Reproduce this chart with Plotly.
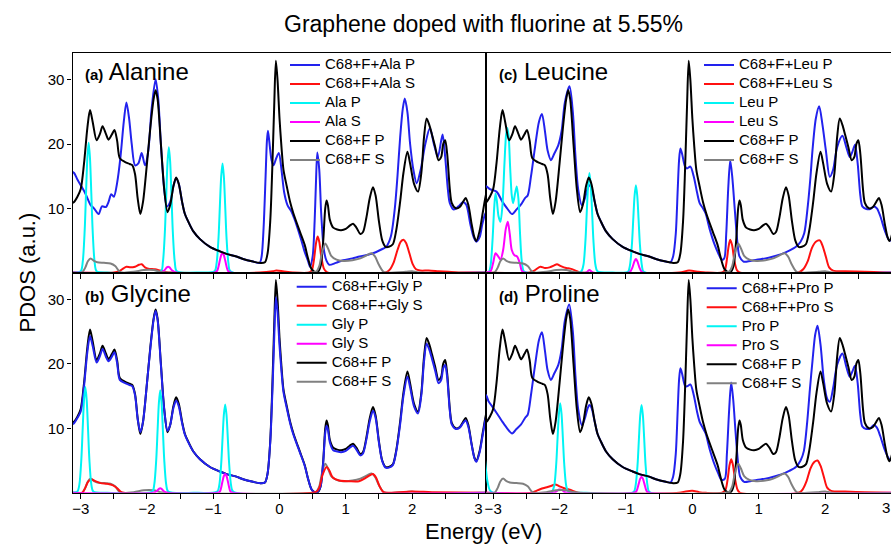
import plotly.graph_objects as go

# ---------------- data (energy eV, PDOS a.u.) ----------------
# Reference graphene + F system (same curves in every panel)
C68F_P = [(-3.14, 10.8), (-3.10, 11.0), (-3.05, 11.8), (-3.00, 13.0), (-2.95, 17.0), (-2.90, 22.5), (-2.86, 25.3),
          (-2.82, 23.5), (-2.76, 20.6), (-2.71, 21.6), (-2.67, 22.8), (-2.62, 21.6), (-2.58, 20.7), (-2.53, 21.5),
          (-2.49, 22.2), (-2.45, 20.5), (-2.41, 17.8), (-2.33, 17.2), (-2.26, 16.9), (-2.22, 16.7), (-2.18, 15.3),
          (-2.14, 11.5), (-2.10, 9.1), (-2.06, 11.0), (-2.00, 17.0), (-1.95, 22.5), (-1.90, 27.0), (-1.87, 28.4),
          (-1.84, 27.0), (-1.79, 20.0), (-1.74, 13.0), (-1.69, 9.4), (-1.65, 10.5), (-1.60, 13.5), (-1.56, 14.8),
          (-1.52, 13.8), (-1.47, 11.0), (-1.43, 9.2), (-1.38, 8.0), (-1.30, 6.4), (-1.20, 5.2), (-1.05, 4.0),
          (-0.90, 3.3), (-0.80, 2.9), (-0.65, 2.5), (-0.55, 2.1), (-0.40, 1.7), (-0.30, 1.5), (-0.22, 1.6),
          (-0.18, 3.0), (-0.14, 8.0), (-0.11, 16.0), (-0.08, 26.0), (-0.055, 33.0), (-0.03, 30.0), (0.00, 24.0),
          (0.03, 19.5), (0.06, 16.0), (0.11, 13.4), (0.16, 11.0), (0.21, 9.2), (0.31, 6.3), (0.38, 4.3),
          (0.43, 2.2), (0.48, 0.6), (0.53, 0.1), (0.58, 0.1), (0.62, 1.0), (0.66, 5.0), (0.69, 10.0), (0.71, 11.2),
          (0.73, 10.5), (0.76, 8.2), (0.81, 7.0), (0.87, 6.7), (0.93, 6.6), (1.00, 6.8), (1.06, 7.3), (1.11, 7.6),
          (1.16, 7.0), (1.22, 6.0), (1.26, 6.3), (1.31, 8.5), (1.36, 11.5), (1.41, 13.3), (1.45, 12.0), (1.50, 8.0),
          (1.55, 5.0), (1.60, 4.0), (1.65, 4.0), (1.71, 4.4), (1.76, 6.5), (1.82, 11.0), (1.87, 15.5), (1.93, 18.8),
          (1.97, 17.0), (2.03, 13.8), (2.09, 12.6), (2.14, 15.5), (2.18, 21.0), (2.22, 24.0), (2.26, 23.0),
          (2.30, 21.5), (2.35, 19.5), (2.40, 17.5), (2.44, 18.0), (2.47, 20.0), (2.50, 20.6), (2.53, 18.5),
          (2.57, 13.0), (2.60, 10.8), (2.66, 10.0), (2.72, 10.2), (2.77, 11.0), (2.81, 11.6), (2.85, 10.5),
          (2.90, 7.5), (2.94, 5.5), (2.97, 4.9), (3.02, 6.5), (3.07, 9.5), (3.12, 12.3), (3.15, 13.0)]

C68F_S = [(-3.14, 0.0), (-2.98, 0.0), (-2.93, 0.8), (-2.89, 1.8), (-2.85, 2.2), (-2.80, 1.8), (-2.75, 1.6),
          (-2.65, 1.5), (-2.55, 1.4), (-2.48, 1.0), (-2.42, 0.2), (-2.38, 0.0), (-2.20, 0.1), (-2.05, 0.4),
          (-1.90, 0.4), (-1.80, 0.1), (-1.70, 0.0), (0.50, 0.0), (0.56, 0.2), (0.60, 1.0), (0.64, 3.0), (0.69, 4.5),
          (0.73, 3.8), (0.78, 2.6), (0.86, 2.0), (0.96, 1.8), (1.10, 1.9), (1.22, 2.2), (1.32, 2.7), (1.39, 3.0),
          (1.44, 2.5), (1.50, 1.2), (1.56, 0.2), (1.60, 0.0), (1.90, 0.1), (2.00, 0.2), (2.10, 0.0), (3.15, 0.0)]

# (a) Alanine
C68F_ALA_P = [(-3.14, 15.8), (-3.10, 15.5), (-3.05, 14.5), (-3.00, 13.6), (-2.93, 12.3), (-2.85, 10.5), (-2.80, 10.0),
              (-2.73, 9.1), (-2.68, 10.3), (-2.62, 10.2), (-2.58, 11.0), (-2.54, 12.2), (-2.50, 11.8), (-2.45, 14.0),
              (-2.40, 18.0), (-2.35, 23.5), (-2.31, 26.5), (-2.27, 24.0), (-2.23, 20.0), (-2.18, 16.7), (-2.13, 17.0),
              (-2.08, 18.6), (-2.03, 16.7), (-1.98, 19.0), (-1.93, 25.5), (-1.87, 30.1), (-1.83, 27.0), (-1.79, 20.0),
              (-1.74, 13.0), (-1.70, 10.3), (-1.65, 11.0), (-1.60, 13.5), (-1.56, 14.7), (-1.52, 13.8), (-1.47, 11.0),
              (-1.43, 9.2), (-1.38, 8.0), (-1.30, 6.4), (-1.20, 5.2), (-1.05, 4.0), (-0.90, 3.3), (-0.80, 2.9),
              (-0.65, 2.5), (-0.55, 2.1), (-0.40, 1.7), (-0.30, 1.5), (-0.27, 2.5), (-0.24, 7.0), (-0.21, 15.0),
              (-0.19, 20.5), (-0.175, 22.1), (-0.155, 20.5), (-0.12, 17.5), (-0.09, 16.7), (-0.05, 17.8),
              (-0.01, 18.6), (0.03, 16.0), (0.07, 12.5), (0.12, 10.5), (0.18, 9.5), (0.22, 8.5), (0.27, 7.0),
              (0.33, 5.0), (0.38, 3.2), (0.43, 1.8), (0.46, 0.9), (0.50, 2.5), (0.53, 8.0), (0.55, 14.0), (0.57, 18.7),
              (0.60, 16.0), (0.63, 9.0), (0.67, 3.5), (0.71, 1.8), (0.75, 1.2), (0.85, 1.5), (0.96, 1.9), (1.10, 2.2),
              (1.21, 2.5), (1.35, 2.8), (1.46, 3.2), (1.56, 3.7), (1.61, 4.0), (1.68, 5.6), (1.74, 10.0), (1.78, 15.0),
              (1.82, 21.0), (1.86, 25.5), (1.89, 27.1), (1.93, 25.0), (1.97, 20.1), (2.02, 16.0), (2.07, 13.9),
              (2.13, 16.0), (2.20, 20.0), (2.27, 22.5), (2.33, 20.0), (2.39, 18.0), (2.46, 21.5), (2.50, 18.0),
              (2.54, 13.0), (2.57, 10.8), (2.63, 9.8), (2.70, 10.3), (2.77, 11.0), (2.82, 10.5), (2.88, 7.5),
              (2.93, 5.5), (2.97, 4.8), (3.02, 5.5), (3.06, 7.5), (3.10, 9.0), (3.15, 10.0)]
C68F_ALA_S = [(-3.14, 0.0), (-2.50, 0.0), (-2.42, 0.2), (-2.36, 0.6), (-2.31, 0.9), (-2.25, 0.8), (-2.18, 0.9),
              (-2.12, 1.2), (-2.08, 1.3), (-2.03, 0.8), (-1.98, 0.6), (-1.88, 0.5), (-1.80, 0.3), (-1.72, 0.1),
              (-1.65, 0.0), (-0.30, 0.0), (-0.10, 0.2), (-0.05, 0.3), (0.05, 0.2), (0.20, 0.0), (0.45, 0.0),
              (0.49, 0.4), (0.52, 2.0), (0.55, 4.5), (0.575, 5.6), (0.60, 4.8), (0.63, 2.5), (0.67, 0.6), (0.72, 0.0),
              (1.60, 0.0), (1.66, 0.4), (1.72, 1.5), (1.78, 3.5), (1.83, 4.8), (1.87, 5.1), (1.91, 4.6), (1.96, 3.0),
              (2.01, 1.3), (2.06, 0.5), (2.12, 0.3), (2.25, 0.3), (2.40, 0.2), (2.55, 0.1), (2.70, 0.0), (3.15, 0.0)]
ALA_P = [(-3.14, 0.0), (-3.00, 0.2), (-2.97, 1.6), (-2.94, 6.6), (-2.92, 12.3), (-2.90, 17.8), (-2.88, 20.2),
         (-2.86, 17.8), (-2.84, 12.3), (-2.82, 6.6), (-2.79, 1.6), (-2.76, 0.2), (-2.60, 0.0),
         (-1.79, 0.2), (-1.76, 1.6), (-1.73, 6.3), (-1.71, 11.9), (-1.69, 17.2), (-1.67, 19.5), (-1.65, 17.2),
         (-1.63, 11.9), (-1.61, 6.3), (-1.58, 1.6), (-1.55, 0.2), (-1.20, 0.0),
         (-0.98, 0.2), (-0.95, 1.4), (-0.92, 5.5), (-0.90, 10.4), (-0.88, 15.0), (-0.86, 17.0), (-0.84, 15.0),
         (-0.82, 10.4), (-0.80, 5.5), (-0.77, 1.4), (-0.74, 0.2), (3.15, 0.0)]
ALA_S = [(-3.14, 0.0), (-1.80, 0.0), (-1.74, 0.3), (-1.70, 0.8), (-1.68, 0.9), (-1.66, 0.8), (-1.62, 0.3),
         (-1.56, 0.0), (-0.98, 0.0), (-0.94, 0.3), (-0.90, 1.9), (-0.88, 2.7), (-0.86, 3.1), (-0.84, 2.7),
         (-0.82, 1.9), (-0.78, 0.3), (-0.74, 0.0), (3.15, 0.0)]

# (b) Glycine
C68F_GLY_P = [(-3.14, 10.6), (-3.10, 10.8), (-3.05, 11.6), (-3.00, 12.6), (-2.95, 16.5), (-2.90, 21.8), (-2.86, 24.3),
              (-2.82, 22.8), (-2.76, 20.2), (-2.71, 21.2), (-2.67, 22.3), (-2.62, 21.1), (-2.58, 20.4), (-2.53, 21.1),
              (-2.49, 21.8), (-2.45, 20.1), (-2.41, 17.5), (-2.33, 17.0), (-2.26, 16.7), (-2.22, 16.5), (-2.18, 15.1),
              (-2.14, 11.4), (-2.10, 9.4), (-2.06, 11.0), (-2.00, 17.0), (-1.95, 22.3), (-1.90, 26.8), (-1.87, 28.2),
              (-1.84, 26.8), (-1.79, 19.8), (-1.74, 12.9), (-1.69, 9.6), (-1.65, 10.5), (-1.60, 13.2), (-1.56, 14.3),
              (-1.52, 13.4), (-1.47, 10.8), (-1.43, 9.1), (-1.38, 7.9), (-1.30, 6.4), (-1.20, 5.2), (-1.05, 4.0),
              (-0.90, 3.3), (-0.80, 2.9), (-0.65, 2.5), (-0.55, 2.1), (-0.40, 1.7), (-0.30, 1.5), (-0.22, 1.6),
              (-0.18, 3.0), (-0.14, 7.8), (-0.11, 15.0), (-0.08, 24.0), (-0.055, 30.3), (-0.03, 28.0), (0.00, 22.8),
              (0.03, 18.8), (0.06, 15.6), (0.11, 13.1), (0.16, 10.8), (0.21, 9.0), (0.31, 6.2), (0.38, 4.2),
              (0.43, 2.2), (0.48, 0.6), (0.53, 0.1), (0.58, 0.2), (0.62, 1.0), (0.66, 4.8), (0.69, 9.3), (0.71, 10.4),
              (0.73, 9.8), (0.76, 7.8), (0.81, 6.6), (0.87, 6.4), (0.93, 6.3), (1.00, 6.5), (1.06, 7.0), (1.11, 7.3),
              (1.16, 6.7), (1.22, 5.8), (1.26, 6.1), (1.31, 8.2), (1.36, 11.0), (1.41, 12.7), (1.45, 11.6), (1.50, 7.8),
              (1.55, 4.9), (1.60, 3.9), (1.65, 3.9), (1.71, 4.3), (1.76, 6.3), (1.82, 10.6), (1.87, 15.0), (1.93, 18.0),
              (1.97, 16.4), (2.03, 13.4), (2.09, 12.3), (2.14, 15.1), (2.18, 20.3), (2.22, 23.1), (2.26, 22.2),
              (2.30, 20.8), (2.35, 18.9), (2.40, 17.0), (2.44, 17.5), (2.47, 19.3), (2.50, 19.8), (2.53, 17.9),
              (2.57, 12.7), (2.60, 10.6), (2.66, 9.9), (2.72, 10.1), (2.77, 10.8), (2.81, 11.2), (2.85, 10.2),
              (2.90, 7.4), (2.94, 5.4), (2.97, 4.8), (3.02, 6.3), (3.07, 9.2), (3.12, 11.9), (3.15, 12.6)]
C68F_GLY_S = [(-3.14, 0.0), (-2.98, 0.0), (-2.93, 0.8), (-2.89, 1.7), (-2.84, 2.1), (-2.78, 1.8), (-2.70, 1.5),
              (-2.60, 1.4), (-2.52, 1.2), (-2.45, 0.7), (-2.40, 0.2), (-2.35, 0.0), (0.50, 0.0), (0.56, 0.2),
              (0.60, 0.8), (0.65, 2.8), (0.71, 4.0), (0.75, 3.5), (0.80, 2.4), (0.90, 1.9), (1.05, 1.8), (1.20, 1.8),
              (1.30, 2.3), (1.36, 2.7), (1.41, 2.9), (1.46, 2.3), (1.51, 1.0), (1.57, 0.1), (1.62, 0.0), (2.00, 0.2),
              (2.30, 0.1), (3.15, 0.0)]
GLY_P = [(-3.14, 0.0), (-3.05, 0.2), (-3.02, 1.3), (-2.99, 5.3), (-2.97, 10.0), (-2.95, 14.4), (-2.93, 16.4),
         (-2.91, 14.4), (-2.89, 10.0), (-2.87, 5.3), (-2.84, 1.3), (-2.81, 0.2), (-2.60, 0.0),
         (-1.92, 0.2), (-1.89, 1.3), (-1.86, 5.2), (-1.84, 9.7), (-1.82, 14.0), (-1.80, 15.9), (-1.78, 14.0),
         (-1.76, 9.7), (-1.74, 5.2), (-1.71, 1.3), (-1.68, 0.2), (-1.30, 0.0),
         (-0.94, 0.2), (-0.91, 1.1), (-0.88, 4.5), (-0.86, 8.4), (-0.84, 12.1), (-0.82, 13.7), (-0.80, 12.1),
         (-0.78, 8.4), (-0.76, 4.5), (-0.73, 1.1), (-0.70, 0.2), (3.15, 0.0)]
GLY_S = [(-3.14, 0.0), (-1.92, 0.0), (-1.86, 0.2), (-1.82, 0.6), (-1.80, 0.7), (-1.78, 0.6), (-1.74, 0.2),
         (-1.68, 0.0), (-0.94, 0.0), (-0.90, 0.2), (-0.86, 1.8), (-0.84, 2.6), (-0.82, 2.9), (-0.80, 2.6),
         (-0.78, 1.8), (-0.74, 0.2), (-0.70, 0.0), (3.15, 0.0)]

# (c) Leucine
C68F_LEU_P = [(-3.14, 13.5), (-3.10, 13.4), (-3.05, 13.0), (-2.95, 12.6), (-2.86, 11.0), (-2.79, 10.0), (-2.715, 9.1),
              (-2.65, 9.8), (-2.58, 10.6), (-2.52, 11.6), (-2.48, 12.0), (-2.43, 15.0), (-2.37, 19.5), (-2.31, 23.5),
              (-2.265, 24.7), (-2.22, 22.0), (-2.18, 19.0), (-2.13, 17.5), (-2.08, 18.5), (-2.02, 19.8), (-1.97, 22.0),
              (-1.92, 26.5), (-1.85, 29.0), (-1.80, 25.0), (-1.76, 18.0), (-1.72, 13.0), (-1.665, 10.5), (-1.62, 11.5),
              (-1.58, 13.0), (-1.55, 13.6), (-1.52, 13.2), (-1.47, 11.0), (-1.43, 9.2), (-1.38, 8.0), (-1.30, 6.4),
              (-1.20, 5.2), (-1.05, 4.0), (-0.90, 3.3), (-0.80, 2.9), (-0.65, 2.5), (-0.55, 2.1), (-0.40, 1.7),
              (-0.33, 1.6), (-0.29, 2.5), (-0.25, 6.0), (-0.22, 13.0), (-0.20, 17.5), (-0.18, 19.3), (-0.155, 18.5),
              (-0.11, 16.5), (-0.08, 16.2), (-0.03, 16.5), (0.02, 15.0), (0.07, 12.5), (0.11, 10.8), (0.16, 10.0),
              (0.20, 9.2), (0.26, 6.8), (0.33, 4.5), (0.39, 3.0), (0.44, 2.0), (0.48, 2.2), (0.51, 6.0), (0.54, 13.0),
              (0.57, 17.5), (0.60, 15.0), (0.64, 9.7), (0.68, 4.5), (0.71, 2.5), (0.77, 1.7), (0.87, 1.8), (0.97, 2.0),
              (1.10, 2.2), (1.22, 2.5), (1.35, 2.9), (1.46, 3.4), (1.56, 4.0), (1.63, 4.8), (1.685, 6.1), (1.74, 10.5),
              (1.78, 15.0), (1.81, 19.1), (1.86, 24.0), (1.91, 25.9), (1.96, 23.0), (2.01, 19.1), (2.07, 14.9),
              (2.12, 16.0), (2.18, 19.5), (2.26, 21.3), (2.32, 19.5), (2.37, 18.0), (2.41, 18.8), (2.45, 19.9),
              (2.49, 17.0), (2.53, 12.0), (2.56, 10.3), (2.62, 9.9), (2.68, 9.9), (2.735, 10.3), (2.78, 10.0),
              (2.83, 8.8), (2.90, 6.5), (2.96, 5.1), (3.00, 5.0), (3.04, 5.5)]
C68F_LEU_S = [(-3.14, 0.0), (-2.45, 0.0), (-2.38, 0.3), (-2.29, 0.9), (-2.22, 0.7), (-2.15, 0.8), (-2.08, 1.1),
              (-2.04, 1.3), (-1.98, 1.0), (-1.90, 0.7), (-1.84, 0.6), (-1.76, 0.3), (-1.69, 0.0), (-0.20, 0.0),
              (-0.05, 0.3), (0.10, 0.1), (0.20, 0.0), (0.45, 0.0), (0.49, 0.4), (0.52, 2.0), (0.545, 4.0), (0.57, 5.1),
              (0.60, 4.2), (0.63, 2.0), (0.67, 0.4), (0.71, 0.0), (1.60, 0.0), (1.67, 0.5), (1.74, 1.8), (1.80, 3.8),
              (1.86, 4.8), (1.92, 5.0), (1.96, 4.2), (2.01, 2.5), (2.06, 0.8), (2.12, 0.3), (2.30, 0.2), (2.60, 0.1),
              (3.04, 0.0)]
LEU_P = [(-3.14, 0.0), (-3.07, 0.0), (-3.04, 1.0), (-3.01, 5.0), (-2.985, 10.0), (-2.965, 12.3), (-2.945, 11.2),
         (-2.92, 8.8), (-2.89, 7.9), (-2.86, 10.5), (-2.83, 17.0), (-2.805, 21.5), (-2.785, 22.5), (-2.765, 21.0),
         (-2.745, 16.5), (-2.72, 12.0), (-2.70, 10.8), (-2.67, 12.3), (-2.645, 13.4), (-2.62, 11.5), (-2.595, 6.0),
         (-2.57, 1.8), (-2.54, 0.2), (-2.50, 0.0), (-1.70, 0.0),
         (-1.67, 0.2), (-1.64, 1.2), (-1.61, 5.0), (-1.59, 9.5), (-1.57, 13.6), (-1.55, 15.5), (-1.53, 13.6),
         (-1.51, 9.5), (-1.49, 5.0), (-1.46, 1.2), (-1.43, 0.2), (-1.20, 0.0),
         (-0.97, 0.1), (-0.94, 1.1), (-0.91, 4.4), (-0.89, 8.3), (-0.87, 12.0), (-0.85, 13.6), (-0.83, 12.0),
         (-0.81, 8.3), (-0.79, 4.4), (-0.76, 1.1), (-0.73, 0.1), (3.04, 0.0)]
LEU_S = [(-3.14, 0.0), (-3.04, 0.2), (-3.00, 1.5), (-2.965, 3.0), (-2.93, 2.6), (-2.89, 2.0), (-2.85, 3.5),
         (-2.81, 6.8), (-2.78, 7.9), (-2.75, 6.0), (-2.72, 3.5), (-2.68, 2.7), (-2.64, 2.5), (-2.60, 1.5),
         (-2.57, 0.3), (-2.53, 0.0), (-1.60, 0.0), (-1.55, 0.4), (-1.50, 0.0), (-0.95, 0.0), (-0.91, 0.6),
         (-0.87, 1.8), (-0.85, 2.1), (-0.83, 1.8), (-0.79, 0.6), (-0.75, 0.0), (3.04, 0.0)]

# (d) Proline
C68F_PRO_P = [(-3.14, 15.5), (-3.10, 15.0), (-3.07, 14.2), (-3.015, 13.4), (-2.95, 12.4), (-2.86, 11.0), (-2.79, 10.0),
              (-2.715, 9.2), (-2.65, 9.9), (-2.58, 10.6), (-2.52, 11.6), (-2.48, 12.1), (-2.43, 15.2), (-2.37, 19.7),
              (-2.31, 23.7), (-2.265, 24.9), (-2.22, 22.0), (-2.18, 19.0), (-2.13, 17.5), (-2.08, 18.5), (-2.02, 19.8),
              (-1.97, 22.2), (-1.92, 26.7), (-1.855, 29.2), (-1.80, 25.0), (-1.76, 18.0), (-1.72, 13.0), (-1.665, 10.5),
              (-1.62, 11.5), (-1.58, 13.0), (-1.55, 13.6), (-1.52, 13.2), (-1.47, 11.0), (-1.43, 9.2), (-1.38, 8.0),
              (-1.30, 6.4), (-1.20, 5.2), (-1.05, 4.0), (-0.90, 3.3), (-0.80, 2.9), (-0.65, 2.5), (-0.55, 2.1),
              (-0.40, 1.7), (-0.33, 1.6), (-0.29, 2.5), (-0.25, 6.0), (-0.22, 13.0), (-0.20, 17.5), (-0.18, 19.3),
              (-0.155, 18.5), (-0.11, 16.6), (-0.08, 16.5), (-0.03, 16.8), (0.02, 15.2), (0.07, 12.6), (0.11, 11.0),
              (0.16, 10.0), (0.20, 9.2), (0.26, 6.8), (0.33, 4.5), (0.39, 3.0), (0.44, 2.0), (0.49, 2.2), (0.52, 6.0),
              (0.555, 13.0), (0.585, 17.1), (0.615, 14.5), (0.65, 9.5), (0.69, 4.5), (0.72, 2.5), (0.78, 1.7),
              (0.87, 1.8), (0.97, 2.0), (1.10, 2.2), (1.22, 2.5), (1.35, 2.9), (1.46, 3.4), (1.56, 4.0), (1.63, 5.0),
              (1.68, 6.5), (1.73, 11.0), (1.77, 16.0), (1.81, 20.5), (1.85, 24.5), (1.885, 25.9), (1.93, 23.0),
              (1.98, 17.5), (2.03, 14.6), (2.07, 14.1), (2.12, 16.2), (2.18, 19.8), (2.26, 21.6), (2.32, 19.5),
              (2.37, 18.0), (2.41, 18.8), (2.45, 19.7), (2.49, 17.0), (2.53, 12.0), (2.56, 10.3), (2.62, 9.9),
              (2.68, 10.0), (2.735, 10.5), (2.78, 10.1), (2.83, 8.8), (2.90, 6.6), (2.96, 5.3), (3.00, 5.1),
              (3.04, 5.5)]
C68F_PRO_S = [(-3.14, 0.0), (-2.42, 0.0), (-2.35, 0.3), (-2.25, 0.7), (-2.18, 0.9), (-2.12, 1.1), (-2.065, 1.3),
              (-2.00, 1.0), (-1.93, 0.7), (-1.86, 0.5), (-1.80, 0.3), (-1.72, 0.0), (-0.20, 0.0), (-0.10, 0.2),
              (0.00, 0.3), (0.10, 0.1), (0.20, 0.0), (0.45, 0.0), (0.50, 0.5), (0.53, 2.0), (0.56, 4.3), (0.585, 5.2),
              (0.61, 4.4), (0.64, 2.3), (0.68, 0.5), (0.72, 0.0), (1.60, 0.0), (1.66, 0.5), (1.72, 1.8), (1.78, 3.8),
              (1.84, 4.8), (1.885, 5.0), (1.93, 4.2), (1.98, 2.5), (2.03, 0.8), (2.09, 0.3), (2.30, 0.2), (2.60, 0.1),
              (3.04, 0.0)]
PRO_P = [(-3.22, 13.0), (-3.18, 12.0), (-3.15, 8.5), (-3.12, 4.8), (-3.09, 2.0), (-3.05, 0.4), (-3.00, 0.0),
         (-2.12, 0.0), (-2.11, 0.2), (-2.08, 1.1), (-2.05, 4.5), (-2.03, 8.5), (-2.01, 12.2), (-1.99, 13.9),
         (-1.97, 12.2), (-1.95, 8.5), (-1.93, 4.5), (-1.90, 1.1), (-1.87, 0.2), (-1.60, 0.0),
         (-0.885, 0.1), (-0.855, 1.1), (-0.825, 4.4), (-0.805, 8.3), (-0.785, 12.0), (-0.765, 13.6), (-0.745, 12.0),
         (-0.725, 8.3), (-0.705, 4.4), (-0.675, 1.1), (-0.645, 0.1), (3.04, 0.0)]
PRO_S = [(-3.14, 0.0), (-2.10, 0.0), (-2.05, 0.2), (-2.01, 0.5), (-1.99, 0.5), (-1.96, 0.4), (-1.92, 0.1),
         (-1.88, 0.0), (-0.885, 0.0), (-0.845, 0.2), (-0.805, 1.5), (-0.785, 2.2), (-0.765, 2.5), (-0.745, 2.2),
         (-0.725, 1.5), (-0.685, 0.2), (-0.645, 0.0), (3.04, 0.0)]

PANEL_LABELS = ["(a)", "(b)", "(c)", "(d)"]
PANEL_NAMES = ["Alanine", "Glycine", "Leucine", "Proline"]
AMINO = ["Ala", "Gly", "Leu", "Pro"]
X_TICKS = [-3, -2, -1, 0, 1, 2, 3]
Y_TICKS = [10, 20, 30]

# ---------------- styling / layout ----------------
W, H = 891, 546
FONT = "Liberation Sans, Arial, Helvetica, sans-serif"
BLUE, RED, CYAN, MAG, BLACK, GRAY = "#2222ee", "#ff1010", "#00f4f4", "#ff00ff", "#000000", "#808080"

XL = [72.5 / W, 486 / W]
XR = [486 / W, 1.0]
YT = [1 - 272.5 / H, 1 - 53.3 / H]
YB = [1 - 492.8 / H, 1 - 272.5 / H]
RANGE_L = [-3.124, 3.116]
RANGE_R = [-3.108, 2.992]
YRANGE = [0, 34.15]

panels = [
    dict(i=0, xa="x", ya="y", xd=XL, yd=YT, xr=RANGE_L, bottom=False, left=True, leg="legend",
         blue=C68F_ALA_P, red=C68F_ALA_S, cyan=ALA_P, mag=ALA_S, blue_top=False,
         legpos=(285, 50.5), lab=(83, 72)),
    dict(i=1, xa="x3", ya="y3", xd=XL, yd=YB, xr=RANGE_L, bottom=True, left=True, leg="legend3",
         blue=C68F_GLY_P, red=C68F_GLY_S, cyan=GLY_P, mag=GLY_S, blue_top=True,
         legpos=(291.7, 272.2), lab=(83, 293)),
    dict(i=2, xa="x2", ya="y2", xd=XR, yd=YT, xr=RANGE_R, bottom=False, left=False, leg="legend2",
         blue=C68F_LEU_P, red=C68F_LEU_S, cyan=LEU_P, mag=LEU_S, blue_top=False,
         legpos=(699, 50.5), lab=(496.7, 72)),
    dict(i=3, xa="x4", ya="y4", xd=XR, yd=YB, xr=RANGE_R, bottom=True, left=False, leg="legend4",
         blue=C68F_PRO_P, red=C68F_PRO_S, cyan=PRO_P, mag=PRO_S, blue_top=False,
         legpos=(701.7, 273.8), lab=(496.7, 293)),
]

fig = go.Figure()


def leg_name(txt):
    return '<span style="font-size:15px">' + txt + "</span>"


for p in panels:
    aa = AMINO[p["i"]]
    series = {
        "blue": (p["blue"], "C68+F+%s P" % aa, BLUE, 1),
        "red": (p["red"], "C68+F+%s S" % aa, RED, 2),
        "cyan": (p["cyan"], "%s P" % aa, CYAN, 3),
        "mag": (p["mag"], "%s S" % aa, MAG, 4),
        "black": (C68F_P, "C68+F P", BLACK, 5),
        "gray": (C68F_S, "C68+F S", GRAY, 6),
    }
    if p["blue_top"]:
        order = ["black", "gray", "blue", "red", "cyan", "mag"]
    else:
        order = ["blue", "red", "cyan", "mag", "black", "gray"]
    for k in order:
        pts, name, col, rank = series[k]
        xs = [a for a, b in pts]
        ys = [b for a, b in pts]
        fig.add_trace(go.Scatter(
            x=xs, y=ys, mode="lines", name=leg_name(name),
            line=dict(color=col, width=2, shape="spline", smoothing=0.8),
            xaxis=p["xa"], yaxis=p["ya"], legend=p["leg"], legendrank=rank,
            showlegend=True, hoverinfo="skip"))

layout = dict(
    width=W, height=H, autosize=False,
    margin=dict(l=0, r=0, t=0, b=0, pad=0),
    paper_bgcolor="white", plot_bgcolor="white",
    font=dict(family=FONT, color="black", size=15),
    showlegend=True,
)

for p in panels:
    xname = "xaxis" + p["xa"][1:]
    yname = "yaxis" + p["ya"][1:]
    layout[xname] = dict(
        domain=p["xd"], range=p["xr"], anchor=p["ya"], showgrid=False, zeroline=False,
        showline=True, linecolor="black", linewidth=1.3, mirror=True,
        tickmode="array", tickvals=X_TICKS, ticks="outside", ticklen=5, tickwidth=1, tickcolor="black",
        minor=dict(dtick=0.5, tick0=-3, ticks="outside", ticklen=5, tickwidth=1, tickcolor="black", showgrid=False),
        showticklabels=p["bottom"], tickfont=dict(size=15, family=FONT, color="black"),
        ticklabelstandoff=-3,
        fixedrange=True,
    )
    layout[yname] = dict(
        domain=p["yd"], range=YRANGE, anchor=p["xa"], showgrid=False, zeroline=False,
        showline=True, linecolor="black", linewidth=1.3, mirror=p["left"],
        tickmode="array", tickvals=Y_TICKS, ticks="outside" if p["left"] else "", ticklen=4, tickwidth=1,
        tickcolor="black", showticklabels=p["left"], tickfont=dict(size=15, family=FONT, color="black"),
        fixedrange=True,
    )
    lx, ly = p["legpos"]
    layout[p["leg"]] = dict(
        x=lx / W, y=1 - ly / H, xanchor="left", yanchor="top", bgcolor="rgba(0,0,0,0)",
        borderwidth=0, font=dict(size=11, family=FONT, color="black"), traceorder="normal",
        itemwidth=30, tracegroupgap=0,
    )

annotations = []
for p in panels:
    lx, ly = p["lab"]
    annotations.append(dict(
        xref="paper", yref="paper", x=lx / W, y=1 - ly / H, xanchor="left", yanchor="middle",
        showarrow=False,
        text='<span style="font-size:15px"><b>%s</b></span> %s' % (PANEL_LABELS[p["i"]], PANEL_NAMES[p["i"]]),
        font=dict(size=24, family=FONT, color="black")))

annotations += [
    dict(xref="paper", yref="paper", x=483 / W, y=1 - 24 / H, xanchor="center", yanchor="middle",
         showarrow=False, text="Graphene doped with fluorine at 5.55%",
         font=dict(size=23, family=FONT, color="black")),
    dict(xref="paper", yref="paper", x=483 / W, y=1 - 531 / H, xanchor="center", yanchor="middle",
         showarrow=False, text="Energy (eV)", font=dict(size=22, family=FONT, color="black")),
    dict(xref="paper", yref="paper", x=27 / W, y=1 - 272.5 / H, xanchor="center", yanchor="middle",
         showarrow=False, text="PDOS (a.u.)", textangle=-90, font=dict(size=22, family=FONT, color="black")),
    # last tick label of the right panel, at the figure edge
    dict(xref="paper", yref="paper", x=885.5 / W, y=1 - 507 / H, xanchor="center", yanchor="middle",
         showarrow=False, text="3", font=dict(size=15, family=FONT, color="black")),
]
layout["annotations"] = annotations

fig.update_layout(**layout)
fig.write_html("out.html")
